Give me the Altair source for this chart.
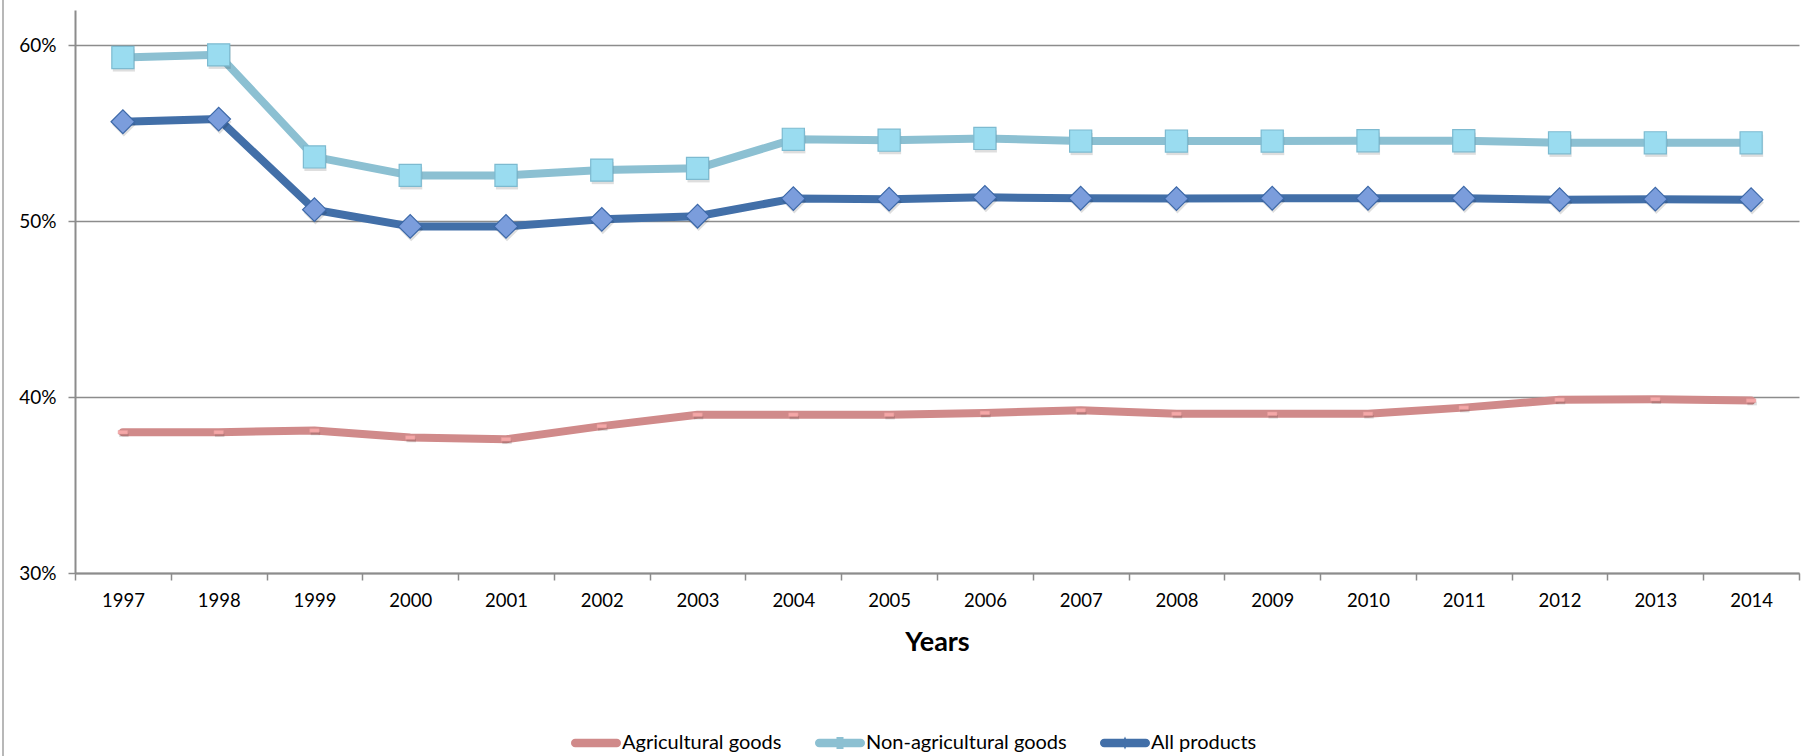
import altair as alt
import pandas as pd

years = [str(y) for y in range(1997, 2015)]
agri = [38.0, 38.0, 38.1, 37.7, 37.6, 38.35, 39.0, 39.0, 39.0, 39.1, 39.25, 39.05,
        39.05, 39.05, 39.4, 39.85, 39.88, 39.8]
nonagri = [59.3, 59.45, 53.65, 52.6, 52.6, 52.9, 53.0, 54.65, 54.6, 54.7, 54.55, 54.55,
           54.55, 54.57, 54.57, 54.45, 54.45, 54.45]
allprod = [55.65, 55.8, 50.65, 49.7, 49.7, 50.1, 50.28, 51.28, 51.25, 51.35, 51.3, 51.28,
           51.3, 51.3, 51.3, 51.22, 51.25, 51.22]
series_names = ["Agricultural goods", "Non-agricultural goods", "All products"]
line_colors = ["#D08A8A", "#8CC0D2", "#426FA8"]
y_ticks = [30, 40, 50, 60]

rows = []
for name, vals in zip(series_names, [agri, nonagri, allprod]):
    for yr, v in zip(years, vals):
        rows.append({"Year": yr, "Series": name, "Value": v})
df = pd.DataFrame(rows)

FONT = "Lato"
GRID = "#8C8C8C"

x_enc = alt.X(
    "Year:O",
    bandPosition=0.5,
    scale=alt.Scale(type="band", paddingInner=0, paddingOuter=0),
    axis=alt.Axis(
        title="Years", tickBand="extent", labelAngle=0, labelFont=FONT, labelFontSize=18.5,
        labelColor="#000", labelPadding=11, tickSize=7, tickColor=GRID, tickWidth=1.5,
        domainColor=GRID, domainWidth=2, grid=False, titleFont=FONT, titleFontSize=27,
        titleFontWeight="bold", titleColor="#000", titlePadding=20,
    ),
)
y_enc = alt.Y(
    "Value:Q",
    scale=alt.Scale(domain=[30, 62], nice=False, zero=False),
    axis=alt.Axis(
        values=y_ticks, labelExpr="datum.value + '%'", title=None, labelFont=FONT,
        labelFontSize=19, labelColor="#000", labelPadding=12, tickSize=7, tickColor=GRID,
        tickWidth=1.5, domainColor=GRID, domainWidth=2, grid=True, gridColor=GRID,
        gridWidth=1.5, gridOpacity=1,
    ),
)

base = alt.Chart(df)

line_layers = [
    base.transform_filter(alt.datum.Series == name)
    .mark_line(strokeWidth=8, strokeJoin="round", strokeCap="round", color=col)
    .encode(x=x_enc, y=y_enc)
    for name, col in zip(series_names, line_colors)
]

dash_path = "M-1,-0.38H1V0.38H-1Z"

def markers(name, shape, size, fill, stroke, sw=1.2):
    sub = base.transform_filter(alt.datum.Series == name)
    shadow = sub.mark_point(shape=shape, size=size, filled=True, color="#000",
                            opacity=0.13, xOffset=1, yOffset=3).encode(x=x_enc, y=y_enc)
    pts = sub.mark_point(shape=shape, size=size, filled=True, fill=fill, stroke=stroke,
                         strokeWidth=sw, opacity=1).encode(x=x_enc, y=y_enc)
    return [shadow, pts]

agri_m = markers("Agricultural goods", dash_path, 90, "#F5A8A8", "#E29A9A", 0.5)
non_m = markers("Non-agricultural goods", "square", 490, "#9ADCF0", "#7DBAD0")
all_m = markers("All products", "diamond", 560, "#7B9DDC", "#3C68A8")

sym_agri = ("M-0.83,-0.17H0.83A0.17,0.17 0 0 1 0.83,0.17H-0.83"
            "A0.17,0.17 0 0 1 -0.83,-0.17Z")
sym_non = ("M-0.83,-0.17H-0.14V-0.24H0.14V-0.17H0.83A0.17,0.17 0 0 1 0.83,0.17"
           "H0.14V0.24H-0.14V0.17H-0.83A0.17,0.17 0 0 1 -0.83,-0.17Z")
sym_all = ("M-0.83,-0.17H-0.04L0,-0.26L0.04,-0.17H0.83A0.17,0.17 0 0 1 0.83,0.17"
           "H0.04L0,0.26L-0.04,0.17H-0.83A0.17,0.17 0 0 1 -0.83,-0.17Z")

legend_cfg = alt.Legend(
    title=None, orient="none", legendX=496, legendY=708, direction="horizontal",
    labelFont=FONT, labelFontSize=20, labelColor="#000", labelLimit=400, symbolSize=2500,
    symbolStrokeWidth=0, symbolOpacity=1, labelOffset=1, columnPadding=33,
)
legend_layer = base.mark_point(filled=True, opacity=0).encode(
    x=x_enc, y=y_enc,
    color=alt.Color("Series:N", scale=alt.Scale(domain=series_names, range=line_colors),
                    legend=legend_cfg),
    shape=alt.Shape("Series:N", scale=alt.Scale(domain=series_names,
                                                range=[sym_agri, sym_non, sym_all]),
                    legend=legend_cfg),
)

border = alt.Chart(pd.DataFrame({"a": [0]})).mark_rule(color="#A0A0A0", strokeWidth=1.5).encode(
    x=alt.value(-72), y=alt.value(-10), y2=alt.value(746)
)

chart = alt.layer(*line_layers, *agri_m, *non_m, *all_m, legend_layer, border).properties(
    width=1724, height=563,
    autosize=alt.AutoSizeParams(type="none"),
    padding={"left": 75, "top": 10, "right": 3, "bottom": 183},
    background="white",
).configure_view(stroke=None)

chart.save("out.html", embed_options={"renderer": "svg", "actions": False})
